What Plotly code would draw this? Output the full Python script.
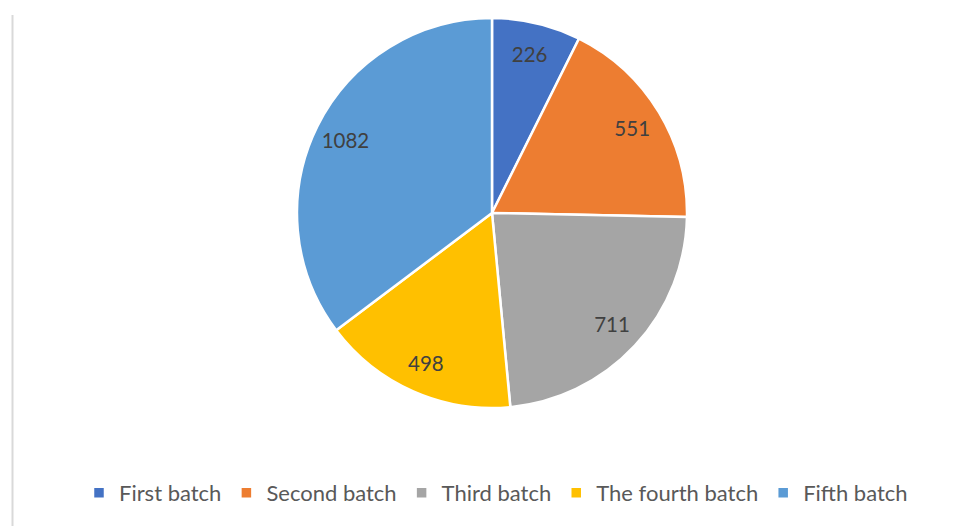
import plotly.graph_objects as go

categories = ["First batch", "Second batch", "Third batch", "The fourth batch", "Fifth batch"]
values = [226, 551, 711, 498, 1082]
colors = ["#4472C4", "#ED7D31", "#A5A5A5", "#FFC000", "#5B9BD5"]

W, H = 958, 526
dom = dict(x=[297 / W, 687 / W], y=[(H - 409) / H, (H - 17) / H])

fig = go.Figure()
# filled slices
fig.add_trace(go.Pie(
    labels=categories,
    values=values,
    sort=False,
    direction="clockwise",
    rotation=0,
    marker=dict(colors=colors, line=dict(color="white", width=2.5)),
    textinfo="none",
    domain=dom,
    hoverinfo="label+value",
))
# value labels placed in the outer ring, as in the reference
fig.add_trace(go.Pie(
    labels=categories,
    values=values,
    sort=False,
    direction="clockwise",
    rotation=0,
    hole=0.68,
    marker=dict(colors=["rgba(0,0,0,0)"] * len(values), line=dict(width=0)),
    textinfo="value",
    textposition="inside",
    insidetextorientation="horizontal",
    textfont=dict(family="Lato", size=20.5, color="#404040"),
    domain=dom,
    showlegend=False,
    hoverinfo="skip",
))

fig.add_shape(type="line", xref="paper", yref="paper",
              x0=12.5 / W, x1=12.5 / W, y0=0, y1=(H - 15) / H,
              line=dict(color="#D9D9D9", width=2))

fig.update_layout(
    width=W, height=H,
    margin=dict(l=0, r=0, t=0, b=0),
    paper_bgcolor="white",
    plot_bgcolor="white",
    showlegend=True,
    legend=dict(orientation="h", x=496 / W, xanchor="center", y=(H - 493) / H, yanchor="middle",
                font=dict(family="Lato", size=22, color="#595959"),
                itemwidth=30, traceorder="normal"),
)

fig.write_html("out.html", config={"displayModeBar": False},
               post_script="document.body.style.margin='0';")
